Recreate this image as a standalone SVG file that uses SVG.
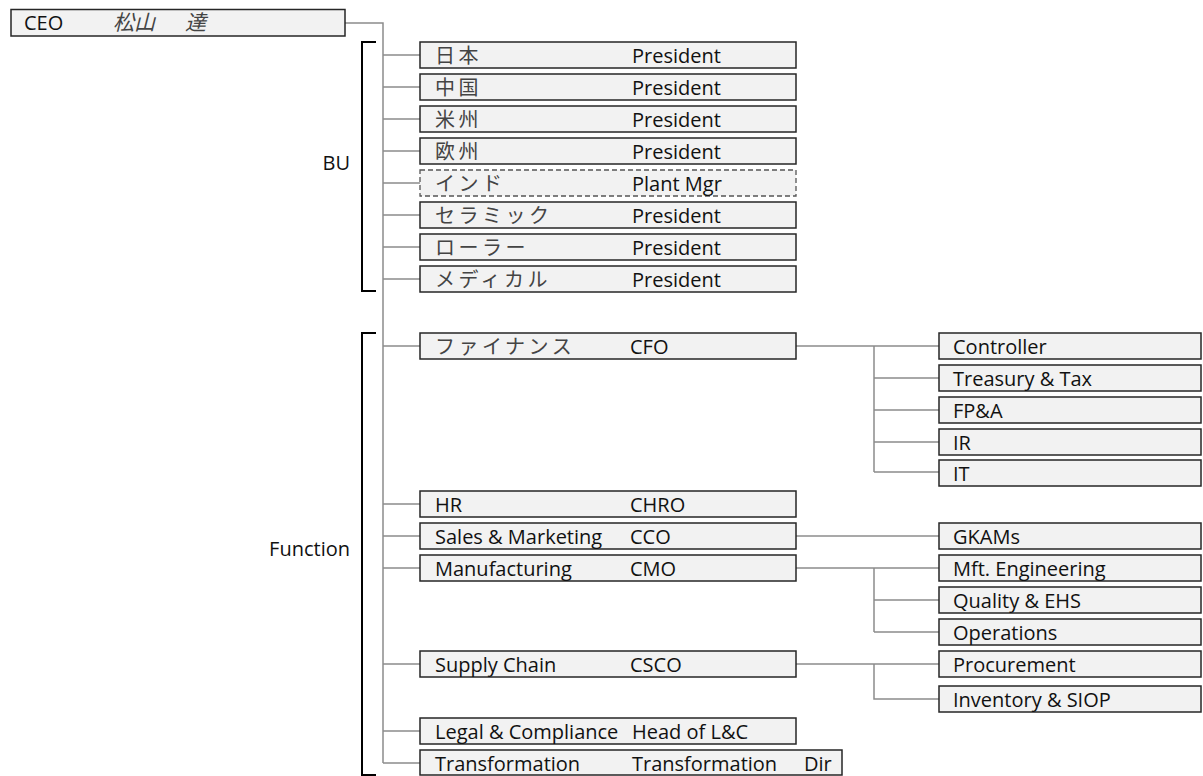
<svg xmlns="http://www.w3.org/2000/svg" width="1203" height="776" viewBox="0 0 1203 776">
<style>
.box{fill:#f2f2f2;stroke:#262626;stroke-width:1.5}
.dash{fill:#f2f2f2;stroke:#555;stroke-width:1.3;stroke-dasharray:5 3}
.conn{stroke:#8c8c8c;stroke-width:1.5;fill:none}
.br{stroke:#000;stroke-width:2;fill:none}
.t{font-family:"Open Sans","Noto Sans",sans-serif;font-size:20px;fill:#111}
.j{font-family:"Noto Sans CJK JP","Noto Sans CJK SC",sans-serif;font-size:20px;fill:#444;letter-spacing:3.5px}
.ji{font-family:"Noto Sans CJK JP","Noto Sans CJK SC",sans-serif;font-size:21px;fill:#444;font-style:italic}
</style>
<rect width="1203" height="776" fill="#fff"/>
<g id="connectors">
<path class="conn" d="M345 23H383V763"/>
<path class="conn" d="M383 55H420M383 87H420M383 119H420M383 151H420M383 183H420M383 215H420M383 247H420M383 279H420"/>
<path class="conn" d="M383 346H420M383 504H420M383 536H420M383 568H420M383 664H420M383 731H420M383 763H420"/>
<path class="conn" d="M796 346H939M874 346V472M874 378H939M874 410H939M874 442H939M874 472H939"/>
<path class="conn" d="M796 536H939"/>
<path class="conn" d="M796 568H939M874 568V632M874 600H939M874 632H939"/>
<path class="conn" d="M796 664H939M874 664V699H939"/>
</g>
<g id="brackets">
<path class="br" d="M376 42H362V291H376"/>
<path class="br" d="M376 333H362V775H376"/>
<text class="t" x="350" y="170" text-anchor="end">BU</text>
<text class="t" x="350" y="556" text-anchor="end">Function</text>
</g>
<g id="ceo"><rect class="box" x="11" y="9.5" width="334" height="26.5"/><text class="t" x="24" y="30">CEO</text><text class="ji" x="113" y="30">松山</text><text class="ji" x="185" y="30">達</text></g>
<g id="bu-japan"><rect class="box" x="420" y="42" width="376" height="26"/><text class="j" x="435" y="63">日本</text><text class="t" x="632" y="63">President</text></g>
<g id="bu-china"><rect class="box" x="420" y="74" width="376" height="26"/><text class="j" x="435" y="95">中国</text><text class="t" x="632" y="95">President</text></g>
<g id="bu-americas"><rect class="box" x="420" y="106" width="376" height="26"/><text class="j" x="435" y="127">米州</text><text class="t" x="632" y="127">President</text></g>
<g id="bu-europe"><rect class="box" x="420" y="138" width="376" height="26"/><text class="j" x="435" y="159">欧州</text><text class="t" x="632" y="159">President</text></g>
<g id="bu-india"><rect class="dash" x="420" y="170" width="376" height="26"/><text class="j" x="435" y="191">インド</text><text class="t" x="632" y="191">Plant Mgr</text></g>
<g id="bu-ceramic"><rect class="box" x="420" y="202" width="376" height="26"/><text class="j" x="435" y="223">セラミック</text><text class="t" x="632" y="223">President</text></g>
<g id="bu-roller"><rect class="box" x="420" y="234" width="376" height="26"/><text class="j" x="435" y="255">ローラー</text><text class="t" x="632" y="255">President</text></g>
<g id="bu-medical"><rect class="box" x="420" y="266" width="376" height="26"/><text class="j" x="435" y="287">メディカル</text><text class="t" x="632" y="287">President</text></g>
<g id="fn-finance"><rect class="box" x="420" y="333" width="376" height="26"/><text class="j" x="435" y="354">ファイナンス</text><text class="t" x="630" y="354">CFO</text></g>
<g id="fn-hr"><rect class="box" x="420" y="491" width="376" height="26"/><text class="t" x="435" y="512">HR</text><text class="t" x="630" y="512">CHRO</text></g>
<g id="fn-sales"><rect class="box" x="420" y="523" width="376" height="26"/><text class="t" x="435" y="544">Sales &amp; Marketing</text><text class="t" x="630" y="544">CCO</text></g>
<g id="fn-mfg"><rect class="box" x="420" y="555" width="376" height="26"/><text class="t" x="435" y="576">Manufacturing</text><text class="t" x="630" y="576">CMO</text></g>
<g id="fn-supply"><rect class="box" x="420" y="651" width="376" height="26"/><text class="t" x="435" y="672">Supply Chain</text><text class="t" x="630" y="672">CSCO</text></g>
<g id="fn-legal"><rect class="box" x="420" y="718" width="376" height="26"/><text class="t" x="435" y="739">Legal &amp; Compliance</text><text class="t" x="632" y="739">Head of L&amp;C</text></g>
<g id="fn-transformation"><rect class="box" x="420" y="750" width="422" height="25"/><text class="t" x="435" y="771">Transformation</text><text class="t" x="632" y="771">Transformation</text><text class="t" x="804" y="771">Dir</text></g>
<g id="controller"><rect class="box" x="939" y="333" width="262" height="26"/><text class="t" x="953" y="354">Controller</text></g>
<g id="treasury"><rect class="box" x="939" y="365" width="262" height="26"/><text class="t" x="953" y="386">Treasury &amp; Tax</text></g>
<g id="fpa"><rect class="box" x="939" y="397" width="262" height="26"/><text class="t" x="953" y="418">FP&amp;A</text></g>
<g id="ir"><rect class="box" x="939" y="429" width="262" height="26"/><text class="t" x="953" y="450">IR</text></g>
<g id="it"><rect class="box" x="939" y="460" width="262" height="26"/><text class="t" x="953" y="481">IT</text></g>
<g id="gkams"><rect class="box" x="939" y="523" width="262" height="26"/><text class="t" x="953" y="544">GKAMs</text></g>
<g id="mft-eng"><rect class="box" x="939" y="555" width="262" height="26"/><text class="t" x="953" y="576">Mft. Engineering</text></g>
<g id="quality"><rect class="box" x="939" y="587" width="262" height="26"/><text class="t" x="953" y="608">Quality &amp; EHS</text></g>
<g id="operations"><rect class="box" x="939" y="619" width="262" height="26"/><text class="t" x="953" y="640">Operations</text></g>
<g id="procurement"><rect class="box" x="939" y="651" width="262" height="26"/><text class="t" x="953" y="672">Procurement</text></g>
<g id="inventory"><rect class="box" x="939" y="686" width="262" height="26"/><text class="t" x="953" y="707">Inventory &amp; SIOP</text></g>
</svg>
